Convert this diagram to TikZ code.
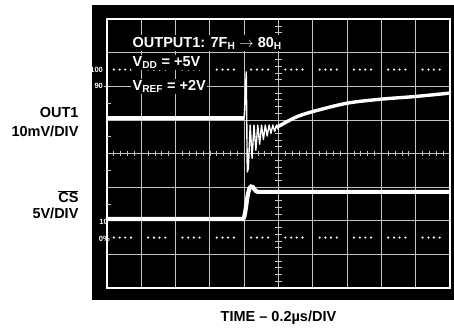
\documentclass[tikz,border=0pt]{standalone}
\usepackage{fontspec}
\setmainfont{Liberation Sans}
\usetikzlibrary{positioning}
\definecolor{gridgray}{RGB}{195,195,195}

\begin{document}
\begin{tikzpicture}[x=34.3pt, y=33.6pt, font=\bfseries\fontsize{14.5}{16}\selectfont]
        \useasboundingbox (-3.12,-1.22) rectangle (10.117,8.571);

        % Screen
        \fill[black] (-0.44,-0.36) rectangle (10.117,8.42);

        % Grid
        \foreach \x in {1,...,9} \draw[gridgray, line width=0.9pt] (\x,0) -- (\x,8);
        \foreach \y in {1,...,7} \draw[gridgray, line width=0.9pt] (0,\y) -- (10,\y);
        \draw[white, line width=1.5pt] (0,0) rectangle (10,8);

        % Minor ticks on the centre axes and the left edge
        \foreach \t in {0.2,0.4,...,9.9} \draw[gridgray, line width=0.8pt] (\t,3.92) -- (\t,4.08);
        \foreach \t in {0.2,0.4,...,7.9} \draw[gridgray, line width=0.8pt] (4.9,\t) -- (5.1,\t);
        \foreach \t in {2.5,3.5,4.5,5.5} \draw[gridgray, line width=0.8pt] (0,\t) -- (0.12,\t);

        % 100% and 0% dotted lines
        \foreach \i in {0,...,9} {
            \foreach \d in {0.2,0.37,0.53,0.7} {
                \fill[white] (\i+\d,6.5) circle (1.2pt);
                \fill[white] (\i+\d,1.5) circle (1.2pt);
            }
        }

        % Scale marks
        \node[text=white, font=\bfseries\fontsize{7.5}{8}\selectfont, anchor=east, inner sep=0.5pt] (p100) at (-0.1,6.5) {100};
        \node[text=white, font=\bfseries\fontsize{7.5}{8}\selectfont, anchor=east, inner sep=0.5pt] (p90) at (-0.1,6) {90};
        \node[text=white, font=\bfseries\fontsize{7.5}{8}\selectfont, inner sep=0.5pt] (p10) at (-0.1,1.96) {10};
        \node[text=white, font=\bfseries\fontsize{7.5}{8}\selectfont, inner sep=0.5pt] (p0) at (-0.08,1.45) {0\%};
        \draw[gridgray, line width=0.9pt] (p90.east) -- (0,6);

        % Settings text
        \node[fill=black, text=white, inner sep=1.5pt, anchor=west] (title) at (0.7,7.29) {OUTPUT1: 7F\textsubscript{H} $\rightarrow$ 80\textsubscript{H}};
        \node[fill=black, text=white, inner sep=1.5pt, anchor=west] (vdd) at (0.7,6.7) {V\textsubscript{DD} = +5V};
        \node[fill=black, text=white, inner sep=1.5pt, anchor=west] (vref) at (0.7,6.0) {V\textsubscript{REF} = +2V};

        % OUT1 trace
        \draw[white, line width=4.2pt] (0,5.05) -- (4.0,5.05);
        \draw[white, line width=1.4pt, line join=round] (4.0,5.05) -- (4.06,6.43) -- (4.09,3.45)
            -- plot[domain=4.12:5.0, samples=17] (\x, {4.85 - 1.3*exp(-2.5*(\x-4.12))*(0.5+0.5*cos(360*(\x-4.12)/0.11))});
        \draw[white, line width=3.4pt] plot[smooth] coordinates {(4.98,4.8) (5.5,5.08) (6,5.25) (7,5.5) (8,5.62) (9,5.7) (10,5.8)};

        % CS trace
        \draw[white, line width=4.2pt] (0,2.05) -- (3.97,2.05) .. controls (4.05,2.1) and (4.08,3.0) .. (4.2,3.02)
            .. controls (4.28,3.04) and (4.3,2.86) .. (4.4,2.86) -- (10,2.86);

        % Channel labels
        \node[anchor=east] (out1) at (-0.73,5.21) {OUT1};
        \node[below=1pt of out1.south east, anchor=north east] (out1div) {10mV/DIV};
        \node[anchor=east] (cs) at (-0.73,2.71) {$\overline{\mbox{CS}}$};
        \node[anchor=east] (csdiv) at (-0.73,2.23) {5V/DIV};

        % Time base
        \node (time) at (5,-0.89) {TIME -- 0.2µs/DIV};
    \end{tikzpicture}
\end{document}
